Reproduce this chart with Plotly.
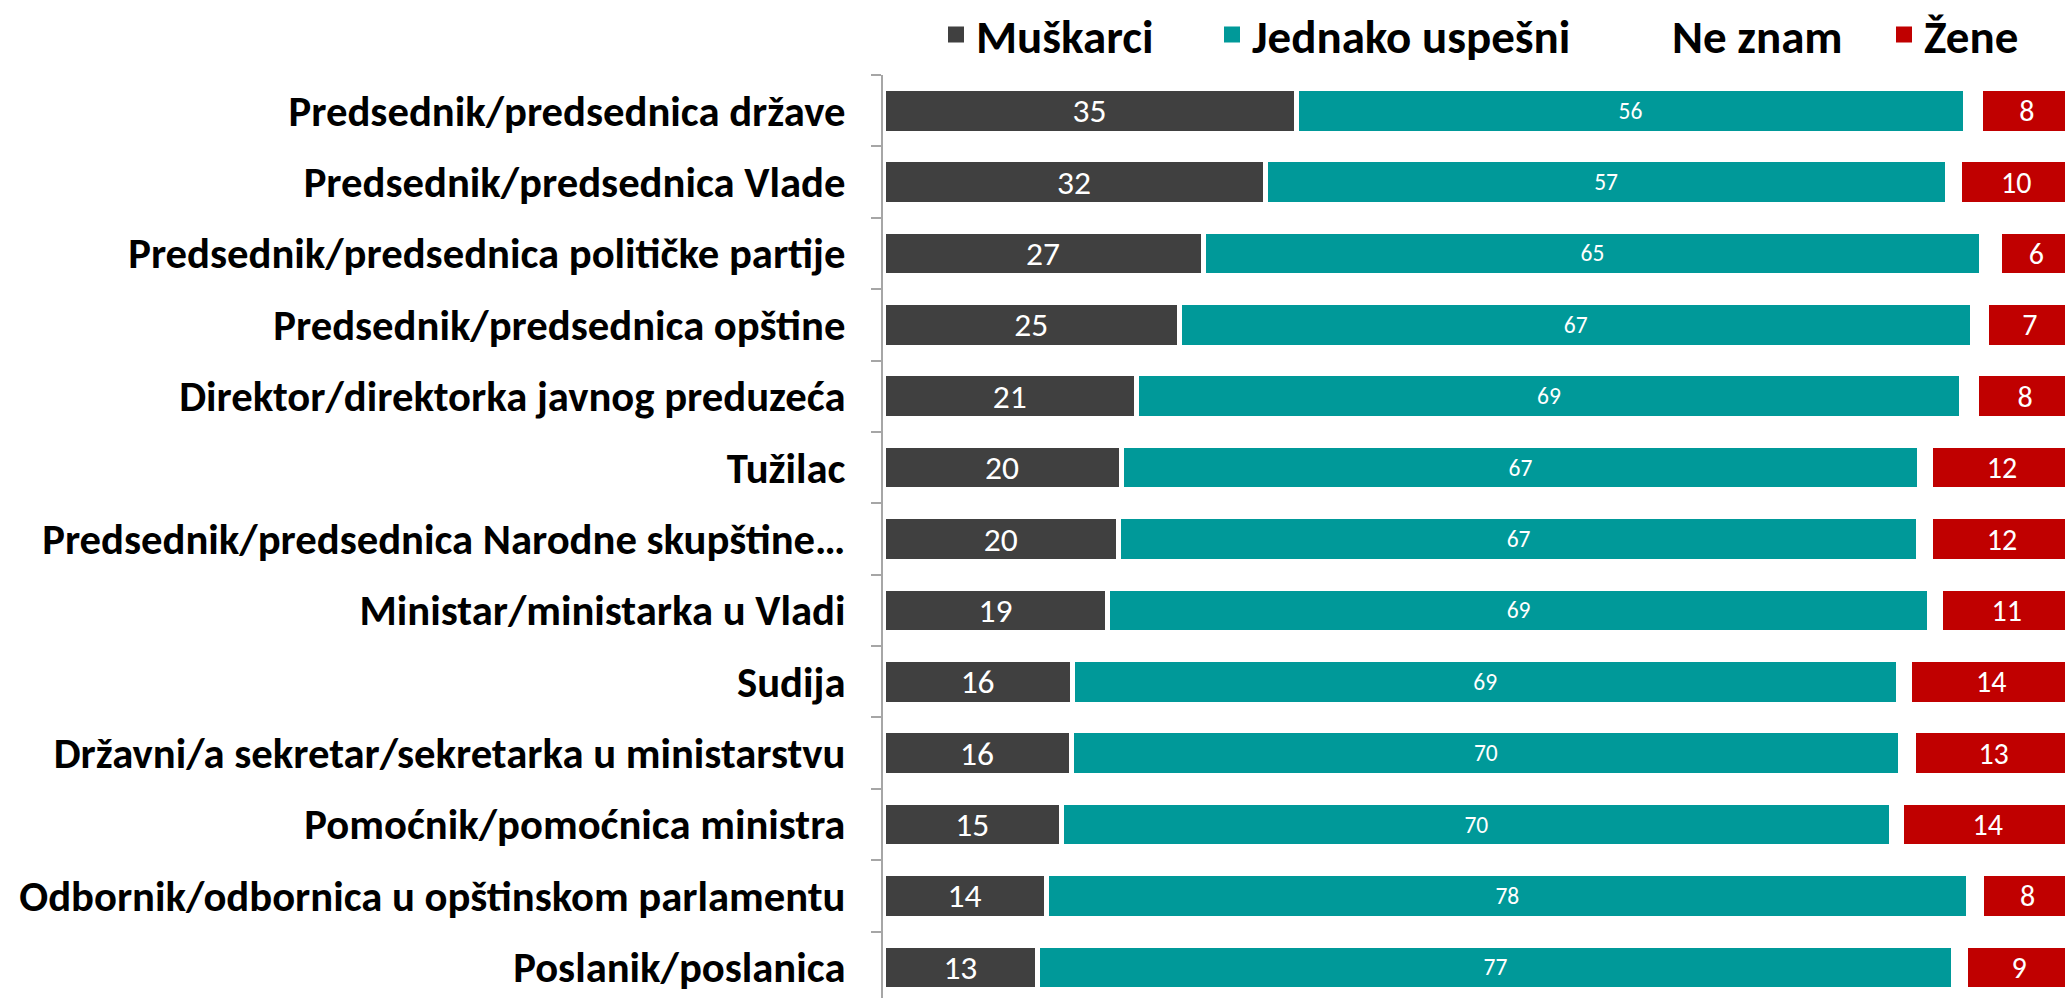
import plotly.graph_objects as go

categories = [
    "Predsednik/predsednica države",
    "Predsednik/predsednica Vlade",
    "Predsednik/predsednica političke partije",
    "Predsednik/predsednica opštine",
    "Direktor/direktorka javnog preduzeća",
    "Tužilac",
    "Predsednik/predsednica Narodne skupštine…",
    "Ministar/ministarka u Vladi",
    "Sudija",
    "Državni/a sekretar/sekretarka u ministarstvu",
    "Pomoćnik/pomoćnica ministra",
    "Odbornik/odbornica u opštinskom parlamentu",
    "Poslanik/poslanica",
]

muskarci = [34.7, 32.1, 26.9, 24.9, 21.3, 20.0, 19.8, 18.9, 15.9, 15.8, 15.0, 13.7, 13.0]
jednako = [56.2, 57.3, 65.4, 66.6, 69.3, 67.1, 67.2, 69.0, 69.4, 69.7, 69.7, 77.5, 76.9]
ne_znam = [1.3, 1.0, 1.5, 1.2, 1.3, 0.9, 1.0, 0.9, 0.9, 1.1, 0.9, 1.1, 1.0]
zene = [7.8, 9.6, 6.2, 7.3, 8.1, 12.0, 12.0, 11.2, 13.8, 13.4, 14.4, 7.7, 9.1]

FONT = "Carlito, Calibri, Lato, 'Open Sans', sans-serif"
W, H = 2065, 998

# name, values, colour, label size, legend id, legend left (px)
series = [
    ("Muškarci", muskarci, "#404040", 33.5, "legend", 936),
    ("Jednako uspešni", jednako, "#009999", 23.5, "legend2", 1212),
    ("Ne znam", ne_znam, "#FFFFFF", 1, "legend3", 1632),
    ("Žene", zene, "#C00000", 30, "legend4", 1884),
]

fig = go.Figure()
legend_layout = {}
for name, vals, color, fs, leg, lx in series:
    show_text = name != "Ne znam"
    fig.add_trace(go.Bar(
        y=categories, x=vals, name=name, orientation="h",
        marker=dict(color=color, line=dict(color="#FFFFFF", width=5)),
        texttemplate="%{x:.0f}" if show_text else None,
        textposition="inside" if show_text else "none",
        insidetextanchor="middle", textangle=0, constraintext="none",
        textfont=dict(family=FONT, size=fs, color="#FFFFFF"),
        hoverinfo="skip", showlegend=False,
    ))
    fig.add_trace(go.Scatter(
        x=[None], y=[None], mode="markers", name=name,
        marker=dict(symbol="square", size=16, color=color),
        legend=leg, showlegend=True, hoverinfo="skip",
    ))
    legend_layout[leg] = dict(
        orientation="h", xref="container", yref="container",
        x=lx / W, xanchor="left", y=1 - 35 / H, yanchor="middle",
        font=dict(family=FONT, size=47, color="#000000", weight="bold"),
        itemwidth=30, bgcolor="rgba(0,0,0,0)", borderwidth=0,
    )

fig.update_layout(
    barmode="stack",
    bargap=0.375,
    width=W, height=H,
    margin=dict(l=883, r=0, t=75, b=0, autoexpand=False),
    plot_bgcolor="#FFFFFF", paper_bgcolor="#FFFFFF",
    font=dict(family=FONT, color="#000000"),
    showlegend=True,
    uniformtext=dict(mode=False),
    **legend_layout,
)
fig.update_xaxes(range=[0, 99.3], showgrid=False, zeroline=False, showticklabels=False,
                 showline=False, ticks="")
fig.update_yaxes(
    autorange=False, range=[12.43, -0.5], showgrid=False, zeroline=False,
    showline=True, linecolor="#A6A6A6", linewidth=2,
    ticks="outside", tickson="boundaries", ticklen=10, tickcolor="#A6A6A6", tickwidth=2,
    ticklabelstandoff=27, automargin=False,
    tickfont=dict(family=FONT, size=42.7, color="#000000", weight="bold"),
)

fig.write_html(
    "out.html",
    config={"displayModeBar": False, "staticPlot": True},
    post_script="document.body.style.margin='0';document.body.style.overflow='hidden';",
)
